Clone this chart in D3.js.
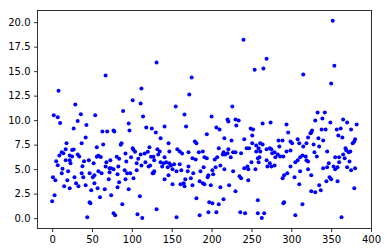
<!DOCTYPE html>
<html><head><meta charset="utf-8">
<script src="https://cdn.jsdelivr.net/npm/d3@7"></script>
<style>html,body{margin:0;padding:0;background:#fff;} svg{display:block}</style>
</head><body><svg id="c" width="387" height="252"></svg>
<script>
// [index, value] pairs
const points = [
[8,13.0],[29,11.6],[2,10.5],[7,10.3],[36,10.6],[54,10.5],[10,9.7],[32,9.9],[43,9.5],[27,9.15],[42,8.24],[18,7.63],[37,7.63],[56,7.22],[17,7.02],[25,6.95],[27,7.0],[12,6.71],[9,6.4],[14,6.61],[22,6.4],[32,6.5],[34,6.3],[25,6.3],[5,5.8],[17,5.9],[22,5.9],[23,5.6],[7,5.4],[40,5.8],[46,5.9],[52,5.6],[38,5.3],[13,5.05],[20,4.78],[12,4.57],[37,4.57],[47,4.57],[58,4.78],[56,6.27],[58,6.37],[1,4.17],[4,3.86],[28,4.17],[39,4.17],[51,4.17],[53,4.37],[19,3.86],[30,3.56],[33,3.25],[42,3.35],[53,3.56],[15,3.25],[22,3.05],[49,2.84],[57,3.05],[3,2.34],[0,1.73],[47,1.62],[48,1.52],[44,0.1],[60,2.13],
[67,14.55],[112,13.22],[101,12.03],[111,11.7],[89,10.92],[114,10.37],[96,9.66],[97,8.95],[118,9.25],[125,9.15],[63,8.85],[69,8.85],[77,8.95],[78,8.85],[64,7.52],[87,7.63],[86,7.5],[61,6.25],[68,5.69],[73,5.9],[81,6.27],[84,6.06],[92,6.6],[101,7.12],[102,6.98],[104,6.78],[108,6.06],[111,6.5],[116,6.6],[120,6.78],[122,7.22],[99,6.2],[93,5.79],[106,5.59],[117,5.69],[123,5.38],[124,6.27],[67,5.28],[72,5.08],[74,5.08],[77,4.98],[83,5.28],[91,4.88],[94,4.57],[98,4.57],[106,4.88],[112,5.38],[121,5.28],[126,4.57],[72,4.67],[62,4.57],[71,3.96],[82,4.47],[92,3.96],[102,4.06],[84,3.66],[82,3.15],[96,2.95],[66,2.95],[74,2.34],[88,1.42],[110,2.23],[77,0.5],[79,0.3],[107,0.4],[113,0.0],
[131,15.87],[175,14.34],[172,12.61],[155,11.39],[166,10.58],[141,9.35],[168,9.35],[130,8.75],[136,8.14],[146,7.63],[179,7.83],[181,7.63],[132,7.02],[135,6.81],[127,6.27],[133,6.5],[147,6.81],[157,7.02],[160,6.81],[163,6.6],[171,6.71],[176,6.1],[180,5.99],[184,6.71],[189,6.81],[191,6.2],[128,5.9],[141,6.2],[136,5.69],[140,5.59],[143,5.69],[147,5.59],[149,5.38],[153,5.49],[160,5.49],[171,5.28],[138,5.28],[145,5.18],[151,4.98],[156,4.78],[162,4.88],[170,4.78],[177,4.57],[186,4.78],[190,5.18],[128,4.78],[127,4.57],[146,4.37],[141,3.96],[167,3.96],[174,4.06],[185,3.76],[189,3.56],[165,3.56],[161,3.46],[166,3.25],[151,3.46],[176,3.35],[191,3.46],[181,2.03],[131,0.91],[156,0.1],[185,0.3],
[240,18.2],[254,15.15],[226,11.39],[200,10.37],[220,10.07],[221,9.86],[230,10.07],[234,9.96],[231,9.46],[206,9.25],[210,9.05],[249,9.15],[252,9.05],[194,8.55],[251,8.44],[216,8.14],[225,7.93],[241,8.04],[251,7.63],[256,7.42],[209,7.12],[221,7.02],[244,7.12],[247,7.12],[259,7.12],[227,6.71],[230,6.71],[237,6.61],[215,6.71],[217,6.5],[220,6.61],[214,6.5],[256,6.81],[194,6.1],[204,5.99],[207,6.2],[224,6.2],[258,6.1],[259,5.69],[250,5.69],[211,5.38],[205,5.18],[241,5.08],[245,5.28],[201,4.88],[216,4.98],[227,4.78],[246,4.98],[255,4.98],[196,4.37],[195,4.17],[202,4.47],[235,4.27],[237,4.06],[246,3.86],[199,3.35],[211,3.15],[222,3.35],[230,2.74],[215,1.93],[258,1.83],[197,1.62],[201,1.52],[209,1.42],[196,0.61],[206,0.61],[236,0.61],[242,0.5],[258,0.5],
[269,16.27],[265,15.26],[315,14.65],[264,9.66],[274,9.76],[294,9.56],[296,8.75],[284,7.93],[289,7.93],[299,7.83],[308,8.04],[310,7.63],[315,7.32],[319,7.63],[321,8.24],[324,8.65],[261,7.63],[264,7.52],[301,7.63],[285,7.32],[269,7.02],[273,7.12],[275,7.02],[279,6.71],[276,6.61],[283,6.5],[286,6.3],[290,6.3],[294,6.81],[299,6.91],[261,6.81],[260,6.2],[280,6.2],[314,6.4],[318,6.3],[311,6.2],[308,5.9],[305,5.69],[319,5.9],[321,5.79],[269,5.9],[273,5.59],[279,5.38],[270,5.28],[275,5.28],[299,5.28],[321,4.98],[311,4.78],[304,4.17],[289,4.06],[291,4.37],[295,4.57],[310,3.46],[291,1.62],[290,1.52],[314,1.42],[305,0.3],[266,0.5],[263,0.0],
[352,20.14],[354,15.56],[350,13.73],[333,10.78],[342,10.78],[330,9.96],[339,10.17],[349,9.76],[365,10.07],[370,9.76],[382,9.56],[338,9.05],[343,9.05],[357,9.05],[362,9.15],[375,9.05],[326,8.95],[325,8.75],[359,8.44],[364,8.24],[334,8.14],[340,7.93],[380,8.04],[379,7.83],[377,7.63],[328,7.52],[335,7.32],[345,6.81],[368,7.12],[369,6.91],[372,6.71],[374,6.81],[329,6.71],[332,6.3],[355,6.2],[360,6.2],[367,6.1],[365,6.5],[373,5.79],[360,5.69],[347,5.59],[353,5.28],[345,5.18],[340,5.08],[358,5.18],[370,5.18],[380,5.08],[375,4.88],[355,4.98],[348,4.17],[350,3.96],[358,3.76],[344,3.76],[325,4.37],[335,3.35],[325,2.74],[337,2.84],[330,2.64],[379,3.05],[363,0.1]
];
const xTicks = [0,50,100,150,200,250,300,350,400];
const yTicks = [0,2.5,5,7.5,10,12.5,15,17.5,20];

const L=37.5, R=371.5, T=10.5, B=228.5;
const svg = d3.select("#c");
const x = d3.scaleLinear().domain([-18.4,400.6]).range([L,R]);
const y = d3.scaleLinear().domain([-1.06,21.19]).range([B,T]);

svg.append("g").selectAll("circle").data(points).join("circle")
  .attr("cx", d=>x(d[0])).attr("cy", d=>y(d[1])).attr("r",2.0).attr("fill","#0000ff");

const font = "DejaVu Sans, sans-serif";
const gx = svg.append("g").attr("transform",`translate(0,${B})`)
  .call(d3.axisBottom(x).tickValues(xTicks).tickSize(3.5).tickPadding(3.5).tickFormat(d3.format("d")));
const gy = svg.append("g").attr("transform",`translate(${L},0)`)
  .call(d3.axisLeft(y).tickValues(yTicks).tickSize(3.5).tickPadding(3.5).tickFormat(d3.format(".1f")));
[gx,gy].forEach(g=>{
  g.select(".domain").remove();
  g.selectAll("line").attr("stroke","#000").attr("stroke-width",0.8);
  g.selectAll("text").attr("fill","#000").style("font-family",font).style("font-size","10px");
});
svg.append("rect").attr("x",L).attr("y",T).attr("width",R-L).attr("height",B-T)
  .attr("fill","none").attr("stroke","#000").attr("stroke-width",0.8);
</script></body></html>
